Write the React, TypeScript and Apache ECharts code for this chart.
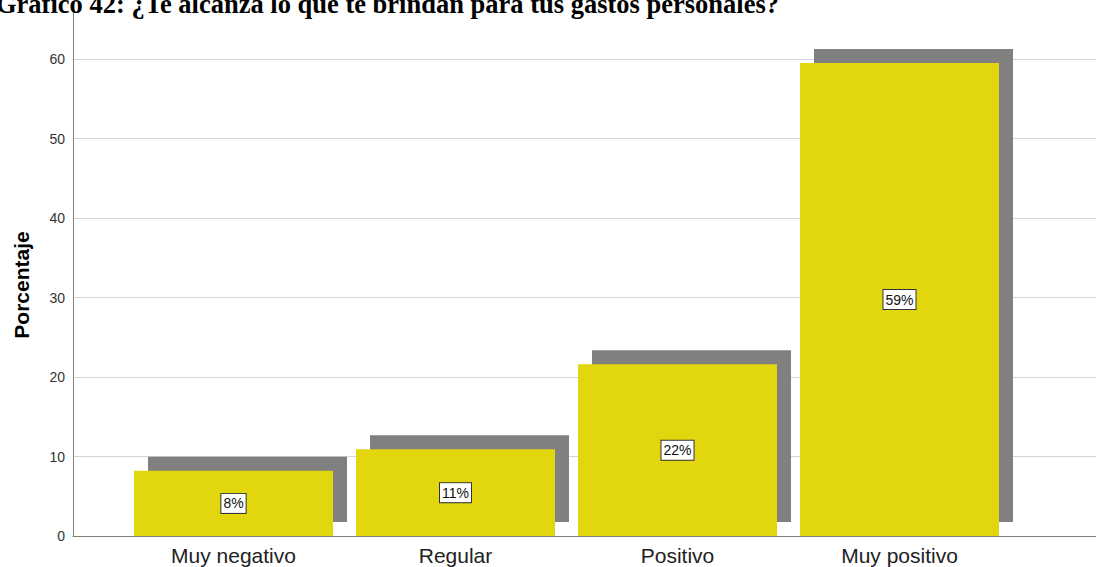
import React, { useEffect, useRef } from "react";
import * as echarts from "echarts";

const categories = ["Muy negativo", "Regular", "Positivo", "Muy positivo"];
const values = [8.2, 10.9, 21.6, 59.5];
const valueLabels = ["8%", "11%", "22%", "59%"];
const yTicks = [0, 10, 20, 30, 40, 50, 60];
const titleText = "Gráfico 42: ¿Te alcanza lo que te brindan para tus gastos personales?";
const yAxisTitle = "Porcentaje";

const YELLOW = "#E2D60E";
const SHADOW = "#808080";
const Y_MAX = 65.8;
const BAR_W = 199;
const OFF = 14;
const SANS = "Arial, 'Liberation Sans', sans-serif";

export default function App() {
  const ref = useRef<HTMLDivElement>(null);
  useEffect(() => {
    if (!ref.current) return;
    const chart = echarts.init(ref.current, null, { renderer: "svg" });
    chart.setOption({
      animation: false,
      backgroundColor: "#ffffff",
      graphic: [
        {
          type: "text",
          x: -4,
          y: 4,
          z: 100,
          style: {
            text: titleText,
            font: "bold 26.5px 'Liberation Serif', 'Times New Roman', serif",
            fill: "#000",
            verticalAlign: "middle",
          },
        },
        {
          type: "text",
          x: 21,
          y: 285,
          rotation: Math.PI / 2,
          z: 100,
          style: {
            text: yAxisTitle,
            font: "bold 21px Arial, 'Liberation Sans', sans-serif",
            fill: "#000",
            align: "center",
            verticalAlign: "middle",
          },
        },
      ],
      grid: [
        { left: 73, right: 0, top: 13, bottom: 31 },
        { left: 122.5, right: 85.5, top: 13, bottom: 31 },
      ],
      xAxis: [
        {
          gridIndex: 0,
          type: "value",
          min: 0,
          max: 1,
          axisLine: { show: true, lineStyle: { color: "#808080", width: 1 } },
          axisTick: { show: false },
          axisLabel: { show: false },
          splitLine: { show: false },
        },
        {
          gridIndex: 1,
          type: "category",
          data: categories,
          axisLine: { show: false },
          axisTick: { show: false },
          axisLabel: {
            fontFamily: SANS,
            fontSize: 21,
            color: "#222",
            margin: 9,
          },
        },
      ],
      yAxis: [
        {
          gridIndex: 0,
          type: "value",
          min: 0,
          max: Y_MAX,
          interval: 10,
          axisLine: { show: true, lineStyle: { color: "#808080", width: 1 } },
          axisTick: { show: false },
          axisLabel: {
            showMaxLabel: false,
            fontFamily: SANS,
            fontSize: 14,
            color: "#333",
            margin: 8,
            formatter: (v: number) => (yTicks.indexOf(v) >= 0 ? String(v) : ""),
          },
          splitLine: {
            show: true,
            showMaxLine: false,
            lineStyle: { color: "#d4d4d4", width: 1 },
          },
        },
        {
          gridIndex: 1,
          type: "value",
          min: 0,
          max: Y_MAX,
          interval: 10,
          show: false,
          splitLine: { show: false },
        },
      ],
      series: [
        {
          type: "custom",
          xAxisIndex: 1,
          yAxisIndex: 1,
          z: 1,
          data: values.map((v, i) => [i, v]),
          renderItem: (params: any, api: any) => {
            const top = api.coord([api.value(0), api.value(1)]);
            const base = api.coord([api.value(0), 0]);
            return {
              type: "rect",
              shape: {
                x: top[0] - BAR_W / 2 + OFF,
                y: top[1] - OFF,
                width: BAR_W,
                height: base[1] - top[1],
              },
              style: { fill: SHADOW },
            };
          },
        },
        {
          type: "bar",
          xAxisIndex: 1,
          yAxisIndex: 1,
          z: 2,
          barWidth: BAR_W,
          data: values,
          itemStyle: { color: YELLOW },
          label: {
            show: true,
            position: "inside",
            formatter: (p: any) => valueLabels[p.dataIndex],
            fontFamily: SANS,
            fontSize: 14,
            color: "#111",
            backgroundColor: "#ffffff",
            borderColor: "#333",
            borderWidth: 1,
            padding: [3, 2, 2, 2],
          },
        },
      ],
    });
    return () => chart.dispose();
  }, []);
  return (
    <div
      ref={ref}
      style={{ position: "fixed", left: 0, top: 0, width: 1096, height: 567 }}
    />
  );
}
